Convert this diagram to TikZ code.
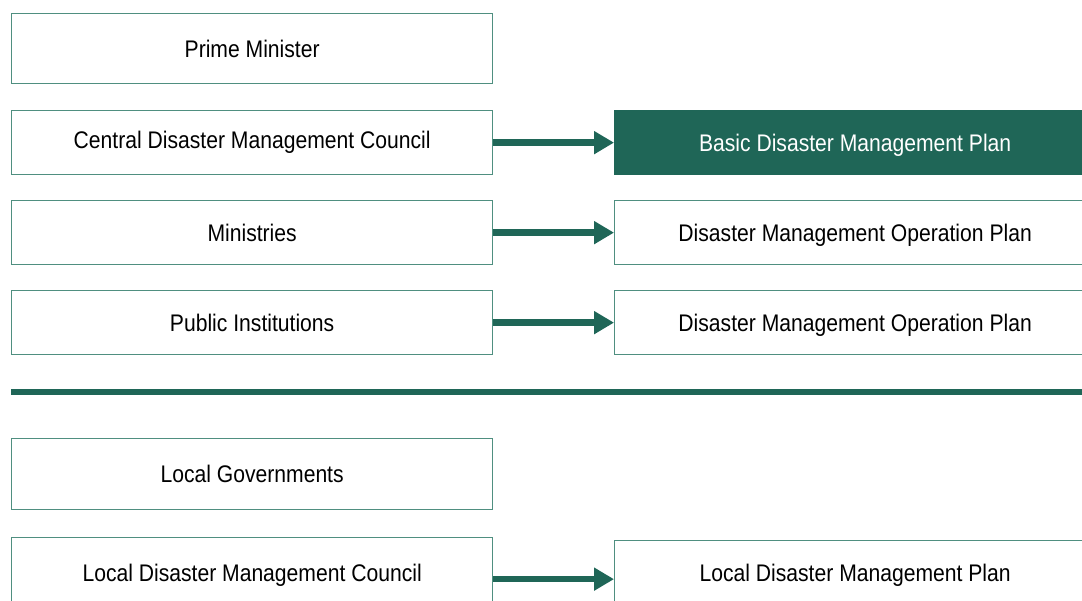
\documentclass[tikz,border=0pt]{standalone}
\usepackage{fontspec}
\setmainfont{Liberation Sans}[FakeStretch=0.88]
\usetikzlibrary{arrows.meta}
\definecolor{dkgreen}{HTML}{1F6657}
\definecolor{boxline}{HTML}{4F8F80}
\begin{document}
\begin{tikzpicture}[x=1pt,y=-1pt,
  box/.style={draw=boxline,line width=1.3pt,minimum width=481pt,minimum height=64pt,inner sep=0pt,font=\fontsize{24}{28}\selectfont,text=black,anchor=north west},
  plan/.style={box,text depth=3.5pt,text height=22pt},
  planfill/.style={plan,fill=dkgreen,draw=dkgreen,text=white},
  bigarrow/.style={draw=dkgreen,line width=6.5pt,-{Triangle[length=20pt,width=22pt]}}]
\useasboundingbox (0,0) rectangle (1082,601);
\clip (0,0) rectangle (1082,601);
\node[box,minimum height=70pt] (pm) at (11,13) {Prime Minister};
\node[box] (cdmc) at (11,110) {Central Disaster Management Council};
\node[box] (min) at (11,200) {Ministries};
\node[box] (pub) at (11,290) {Public Institutions};
\node[box,minimum height=71pt] (lg) at (11,438) {Local Governments};
\node[box,text depth=3.5pt,text height=28pt] (ldmc) at (11,537) {Local Disaster Management Council};
\node[planfill] (bdmp) at (614,110) {Basic Disaster Management Plan};
\node[plan] (dmop1) at (614,200) {Disaster Management Operation Plan};
\node[plan] (dmop2) at (614,290) {Disaster Management Operation Plan};
\node[plan] (ldmp) at (614,540) {Local Disaster Management Plan};
\coordinate (divl) at (11,392);
\coordinate (divr) at (1100,392);
\draw[dkgreen,line width=6pt] (divl) -- (divr);
\draw[bigarrow] (cdmc.east) -- (bdmp.west);
\draw[bigarrow] (min.east) -- (dmop1.west);
\draw[bigarrow] (pub.east) -- (dmop2.west);
\draw[bigarrow] ([yshift=-9.5pt]ldmc.east) -- ([yshift=-6.5pt]ldmp.west);
\end{tikzpicture}
\end{document}
